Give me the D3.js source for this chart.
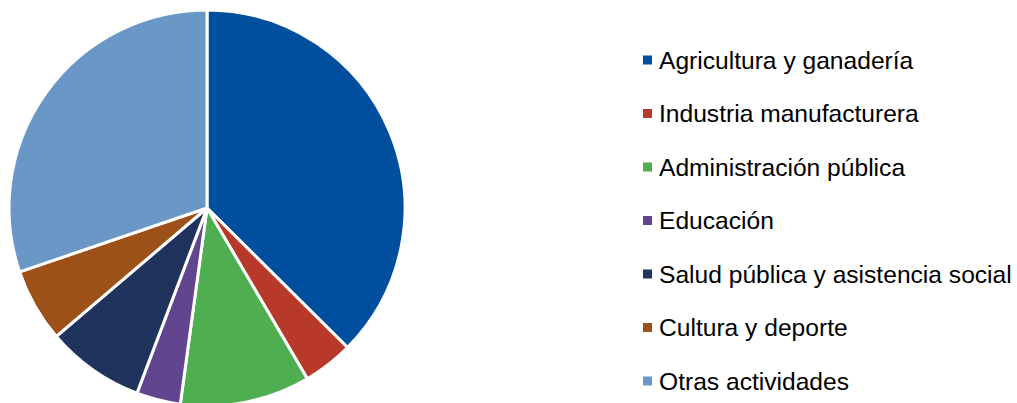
<!DOCTYPE html>
<html>
<head>
<meta charset="utf-8">
<script src="https://cdn.jsdelivr.net/npm/d3@7"></script>
<style>
  body { margin: 0; background: #fff; }
  text { font-family: "Liberation Sans", Arial, sans-serif; }
</style>
</head>
<body>
<svg id="chart" width="1017" height="403"></svg>
<script>
// sectors and their share (%)
var categories = [
	"Agricultura y ganadería",
	"Industria manufacturera",
	"Administración pública",
	"Educación",
	"Salud pública y asistencia social",
	"Cultura y deporte",
	"Otras actividades"
];
var values = [37.4, 4.1, 10.6, 3.6, 8.0, 6.0, 30.2];
var colors = ["#004f9f", "#b8392a", "#4fae50", "#61468f", "#1f335c", "#9d5018", "#6a97c5"];

var svg = d3.select("#chart");

var cx = 207, cy = 208, radius = 198;

var pie = d3.pie().sort(null).value(function(d) { return d; });
var arc = d3.arc().innerRadius(0).outerRadius(radius);

var colorScale = d3.scaleOrdinal().domain(categories).range(colors);

var g = svg.append("g").attr("transform", "translate(" + cx + "," + cy + ")");

g.selectAll("path")
	.data(pie(values))
	.enter()
	.append("path")
	.attr("d", arc)
	.attr("fill", function(d, i) { return colorScale(categories[i]); })
	.attr("stroke", "#fff")
	.attr("stroke-width", 3)
	.attr("stroke-linejoin", "miter");

// legend
var legendY = d3.scalePoint().domain(categories).range([60, 381]);

var legend = svg.append("g");

var items = legend.selectAll("g")
	.data(categories)
	.enter()
	.append("g")
	.attr("transform", function(d) { return "translate(0," + legendY(d) + ")"; });

items.append("rect")
	.attr("x", 643)
	.attr("y", -4.5)
	.attr("width", 9)
	.attr("height", 9)
	.attr("fill", function(d) { return colorScale(d); });

items.append("text")
	.attr("x", 659)
	.attr("y", 0)
	.attr("dy", "0.36em")
	.style("font-size", "24.6px")
	.attr("fill", "#000")
	.text(function(d) { return d; });
</script>
</body>
</html>
